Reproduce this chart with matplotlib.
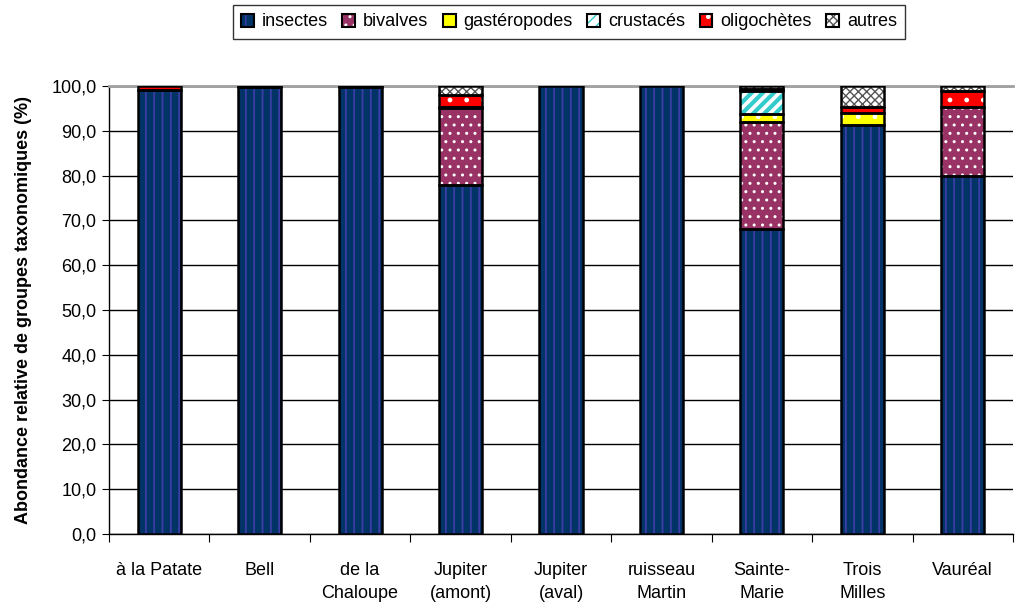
#!/usr/bin/env python
"""
Abondance relative des groupes taxonomiques par cours d'eau
"""

import numpy as np
import matplotlib
matplotlib.use('Agg')
from matplotlib import pyplot as plt
from matplotlib.patches import Patch
from matplotlib.legend_handler import HandlerTuple

plt.rcParams['font.family'] = ['Liberation Sans', 'DejaVu Sans']

sites = ['à la Patate', 'Bell', 'de la\nChaloupe', 'Jupiter\n(amont)', 'Jupiter\n(aval)',
         'ruisseau\nMartin', 'Sainte-\nMarie', 'Trois\nMilles', 'Vauréal']

insectes = [99.2, 99.7, 99.7, 78.0, 100.0, 100.0, 68.0, 91.3, 80.0]
bivalves = [0.0, 0.0, 0.0, 17.0, 0.0, 0.0, 24.0, 0.0, 15.3]
gasteropodes = [0.0, 0.0, 0.0, 0.3, 0.0, 0.0, 1.7, 2.6, 0.0]
crustaces = [0.0, 0.0, 0.0, 0.0, 0.0, 0.0, 5.2, 0.0, 0.0]
oligochetes = [0.8, 0.15, 0.15, 2.7, 0.0, 0.0, 0.5, 1.5, 3.5]
autres = [0.0, 0.15, 0.15, 2.0, 0.0, 0.0, 0.6, 4.6, 1.2]

groups = ['insectes', 'bivalves', 'gastéropodes', 'crustacés', 'oligochètes', 'autres']
series = [insectes, bivalves, gasteropodes, crustaces, oligochetes, autres]
# face colour, hatch, hatch colour, hatch linewidth
styles = [('#003366', '||', '#3d3da8', 1.3),
          ('#993366', '..', '#ffffff', 1.0),
          ('#ffff00', '.', '#ffffff', 1.0),
          ('#ffffff', '///', '#33cccc', 3.0),
          ('#ff0000', '.', '#ffffff', 1.0),
          ('#ffffff', 'xxxx', '#555555', 1.0)]

fontsize = 13

fig = plt.figure(figsize=(10.21, 6.02), dpi=100)
ax = fig.add_axes([109/1021., 1-534/602., (1013-109)/1021., (534-86)/602.])

x = np.arange(len(sites))
width = 0.43
bottom = np.zeros(len(sites))
for vals, (fc, hatch, hc, hlw) in zip(series, styles):
    vals = np.array(vals)
    ax.bar(x, vals, width, bottom=bottom, color=fc, edgecolor='none', lw=0, zorder=3)
    with plt.rc_context({'hatch.linewidth': hlw}):
        ax.bar(x, vals, width, bottom=bottom, color='none', edgecolor=hc, lw=0,
               hatch=hatch, zorder=4)
    ax.bar(x[vals > 0], vals[vals > 0], width, bottom=bottom[vals > 0], color='none',
           edgecolor='black', lw=1.8, zorder=5)
    bottom += vals

ax.set_xlim(-0.5, len(sites)-0.5)
ax.set_ylim(0, 100)
ax.set_yticks(np.arange(0, 101, 10))
ax.yaxis.set_major_formatter(matplotlib.ticker.FuncFormatter(lambda v, p: ('%.1f' % v).replace('.', ',')))
ax.set_xticks(np.arange(len(sites)+1)-0.5, minor=False)
ax.set_xticklabels([''] * (len(sites)+1))
ax.set_xticks(x, minor=True)
ax.set_xticklabels(sites, minor=True, linespacing=1.45)
ax.tick_params(axis='x', which='minor', length=0, pad=20, labelsize=fontsize)
ax.tick_params(axis='x', which='major', length=6, direction='out', color='black')
ax.tick_params(axis='y', length=5, direction='out', labelsize=fontsize, pad=4)

ax.grid(axis='y', color='black', lw=1, zorder=0)
ax.spines['top'].set_color('#a0a0a0')
ax.spines['top'].set_linewidth(2)
ax.spines['right'].set_visible(False)
ax.spines['left'].set_linewidth(1)
ax.spines['bottom'].set_linewidth(1)

ax.set_ylabel('Abondance relative de groupes taxonomiques (%)', fontsize=fontsize,
              fontweight='bold', labelpad=14)

handles = []
for fc, hatch, hc, hlw in styles:
    handles.append((Patch(facecolor=fc, edgecolor='none', lw=0),
                    Patch(facecolor='none', edgecolor=hc, lw=0, hatch=hatch),
                    Patch(facecolor='none', edgecolor='black', lw=1.5)))
leg = fig.legend(handles, groups, loc='center', bbox_to_anchor=(569/1021., 1-22/602.),
                 ncol=6, frameon=True, fancybox=False, fontsize=fontsize, handlelength=0.7,
                 handleheight=0.7, handletextpad=0.45, columnspacing=0.8,
                 borderpad=0.45, handler_map={tuple: HandlerTuple(ndivide=1)})
leg.get_frame().set_edgecolor('black')
leg.get_frame().set_linewidth(1)

fig.savefig('out.png', dpi=100)
